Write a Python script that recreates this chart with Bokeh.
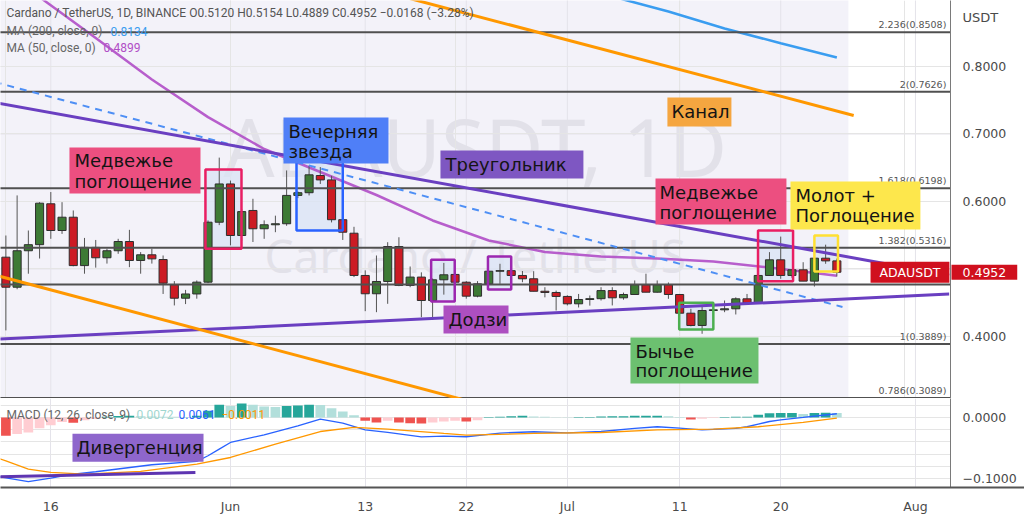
import pandas as pd
from bokeh.plotting import figure
from bokeh.layouts import column
from bokeh.models import Range1d, FixedTicker, Label
from bokeh.core.properties import value
from bokeh.embed import file_html
from bokeh.resources import INLINE

# ---------------- data ----------------
dates = [d.strftime("%Y-%m-%d") for d in pd.date_range("2022-05-12", "2022-07-25")]
opens = [0.5175, 0.4730, 0.5270, 0.5360, 0.5966, 0.5570, 0.5767, 0.5050, 0.5320, 0.5166,
         0.5270, 0.5407, 0.5126, 0.5210, 0.5140, 0.4766, 0.4567, 0.4630, 0.4805, 0.5693,
         0.6260, 0.5496, 0.5867, 0.5596, 0.5655, 0.5670, 0.6090, 0.6130, 0.6385, 0.6320,
         0.5730, 0.5530, 0.4904, 0.4633, 0.4815, 0.5333, 0.4756, 0.4880, 0.4533, 0.4840,
         0.4919, 0.4804, 0.4597, 0.4780, 0.4967, 0.4975, 0.4904, 0.4855, 0.4670, 0.4652,
         0.4593, 0.4484, 0.4548, 0.4560, 0.4680, 0.4573, 0.4622, 0.4766, 0.4656, 0.4766,
         0.4622, 0.4345, 0.4163, 0.4385, 0.4395, 0.4410, 0.4558, 0.4494, 0.4904, 0.5136,
         0.4904, 0.4988, 0.4820, 0.5160, 0.5120]
highs = [0.5496, 0.6090, 0.5570, 0.5990, 0.6140, 0.5990, 0.5867, 0.5460, 0.5430, 0.5300,
         0.5447, 0.5580, 0.5250, 0.5300, 0.5200, 0.4820, 0.4690, 0.4830, 0.5720, 0.6650,
         0.6310, 0.5890, 0.6040, 0.5720, 0.5790, 0.6460, 0.6150, 0.6530, 0.6510, 0.6380,
         0.5740, 0.5625, 0.4980, 0.5200, 0.5397, 0.5470, 0.5037, 0.4950, 0.4860, 0.5090,
         0.4950, 0.4820, 0.4820, 0.4970, 0.5077, 0.5050, 0.4970, 0.4967, 0.4730, 0.4680,
         0.4610, 0.4630, 0.4607, 0.4730, 0.4730, 0.4650, 0.4830, 0.4930, 0.4830, 0.4800,
         0.4630, 0.4410, 0.4459, 0.4430, 0.4533, 0.4580, 0.4630, 0.4930, 0.5250, 0.5480,
         0.4995, 0.5100, 0.5160, 0.5360, 0.5154]
lows = [0.4090, 0.4700, 0.4930, 0.5155, 0.5447, 0.5520, 0.5040, 0.4930, 0.5020, 0.5080,
        0.5225, 0.5027, 0.4930, 0.5080, 0.4630, 0.4460, 0.4480, 0.4560, 0.4790, 0.5650,
        0.5350, 0.5420, 0.5400, 0.5447, 0.5545, 0.5640, 0.6050, 0.6090, 0.6260, 0.5690,
        0.5430, 0.4880, 0.4375, 0.4360, 0.4484, 0.4745, 0.4730, 0.4286, 0.4245, 0.4620,
        0.4780, 0.4560, 0.4580, 0.4780, 0.4780, 0.4825, 0.4804, 0.4670, 0.4580, 0.4385,
        0.4460, 0.4430, 0.4457, 0.4533, 0.4460, 0.4545, 0.4622, 0.4656, 0.4650, 0.4558,
        0.4340, 0.4150, 0.4040, 0.4355, 0.4360, 0.4326, 0.4480, 0.4484, 0.4904, 0.4855,
        0.4870, 0.4820, 0.4740, 0.5077, 0.4889]
closes = [0.4730, 0.5270, 0.5360, 0.5975, 0.5570, 0.5767, 0.5050, 0.5320, 0.5166, 0.5270,
          0.5407, 0.5126, 0.5210, 0.5150, 0.4790, 0.4567, 0.4630, 0.4805, 0.5693, 0.6260,
          0.5496, 0.5850, 0.5596, 0.5655, 0.5670, 0.6090, 0.6130, 0.6395, 0.6320, 0.5730,
          0.5545, 0.4904, 0.4633, 0.4815, 0.5333, 0.4756, 0.4880, 0.4533, 0.4840, 0.4914,
          0.4804, 0.4597, 0.4780, 0.4967, 0.4975, 0.4904, 0.4855, 0.4670, 0.4652, 0.4593,
          0.4484, 0.4548, 0.4560, 0.4680, 0.4573, 0.4622, 0.4766, 0.4656, 0.4766, 0.4622,
          0.4345, 0.4163, 0.4385, 0.4395, 0.4410, 0.4558, 0.4494, 0.4904, 0.5136, 0.4904,
          0.4988, 0.4820, 0.5160, 0.5120, 0.4952]

hist = [-0.0300, -0.0273, -0.0246, -0.0175, -0.0126, -0.0075, -0.0085, -0.0044, -0.0027, 0.0012,
        0.0025, 0.0030, 0.0022, 0.0015, 0.0012, 0.0010, 0.0008, 0.0030, 0.0110, 0.0208,
        0.0190, 0.0230, 0.0208, 0.0178, 0.0170, 0.0190, 0.0195, 0.0208, 0.0205, 0.0150,
        0.0098, 0.0038, -0.0055, -0.0082, -0.0055, -0.0082, -0.0093, -0.0098, -0.0082, -0.0066,
        -0.0055, -0.0066, -0.0044, 0.0008, 0.0013, 0.0020, 0.0030, 0.0017, 0.0010, 0.0004,
        0.0002, 0.0006, 0.0008, 0.0016, 0.0018, 0.0020, 0.0027, 0.0029, 0.0030, 0.0018,
        0.0006, -0.0033, -0.0020, -0.0010, 0.0006, 0.0012, 0.0013, 0.0044, 0.0071, 0.0073,
        0.0074, 0.0055, 0.0072, 0.0078, 0.0072]

macd_dates = ["2022-05-11", "2022-05-12", "2022-05-14", "2022-05-16", "2022-05-18", "2022-05-20",
              "2022-05-25", "2022-05-29", "2022-05-30", "2022-05-31", "2022-06-01", "2022-06-04",
              "2022-06-07", "2022-06-09", "2022-06-11", "2022-06-13", "2022-06-15", "2022-06-18",
              "2022-06-20", "2022-06-22", "2022-06-25", "2022-06-28", "2022-07-01", "2022-07-04",
              "2022-07-07", "2022-07-09", "2022-07-11", "2022-07-13", "2022-07-16", "2022-07-17",
              "2022-07-18", "2022-07-19", "2022-07-20", "2022-07-22", "2022-07-25"]
macd_vals = [-0.0960, -0.0990, -0.1050, -0.0994, -0.0928, -0.0890,
             -0.0775, -0.0720, -0.0628, -0.0518, -0.0410, -0.0284,
             -0.0136, -0.0027, -0.0093, -0.0202, -0.0246, -0.0317,
             -0.0306, -0.0316, -0.0256, -0.0234, -0.0251, -0.0230,
             -0.0180, -0.0152, -0.0174, -0.0202, -0.0180, -0.0152,
             -0.0109, -0.0066, -0.0038, 0.0000, 0.0061]
sig_dates = ["2022-05-11", "2022-05-12", "2022-05-14", "2022-05-16", "2022-05-19", "2022-05-24",
             "2022-05-29", "2022-06-01", "2022-06-05", "2022-06-09", "2022-06-12", "2022-06-15",
             "2022-06-20", "2022-06-22", "2022-06-28", "2022-07-04", "2022-07-09", "2022-07-14",
             "2022-07-18", "2022-07-22", "2022-07-25"]
sig_vals = [-0.0650, -0.0710, -0.0846, -0.0900, -0.0928, -0.0885,
            -0.0764, -0.0656, -0.0437, -0.0230, -0.0164, -0.0190,
            -0.0262, -0.0289, -0.0262, -0.0246, -0.0202, -0.0190,
            -0.0152, -0.0082, -0.0011]

ma50_dates = ["2022-05-11", "2022-05-15", "2022-05-20", "2022-05-25", "2022-05-30", "2022-06-04",
              "2022-06-09", "2022-06-14", "2022-06-19", "2022-06-24", "2022-06-29", "2022-07-04",
              "2022-07-09", "2022-07-14", "2022-07-19", "2022-07-25"]
ma50_vals = [0.9505, 0.9028, 0.8422, 0.7807, 0.7250, 0.6778,
             0.6437, 0.6096, 0.5719, 0.5422, 0.5252, 0.5185,
             0.5156, 0.5111, 0.5022, 0.4899]
ma200_dates = ["2022-07-01", "2022-07-06", "2022-07-10", "2022-07-15", "2022-07-20", "2022-07-25"]
ma200_vals = [0.9230, 0.8993, 0.8815, 0.8563, 0.8345, 0.8134]

tri_up_dates, tri_up_vals = ["2022-05-11", "2022-08-04"], [0.7467, 0.4908]
tri_lo_dates, tri_lo_vals = ["2022-05-11", "2022-08-04"], [0.3959, 0.4628]
dash_dates, dash_vals = ["2022-05-11", "2022-07-25 12:00"], [0.7770, 0.4437]
chan_up_dates, chan_up_vals = ["2022-06-15", "2022-07-26 12:00"], [0.9093, 0.7275]
chan_lo_dates, chan_lo_vals = ["2022-05-11", "2022-06-23"], [0.4911, 0.3007]
div_dates, div_vals = ["2022-05-11", "2022-05-28 21:00"], [-0.0974, -0.0902]

fib_ratios = ["0.786", "1", "1.236", "1.382", "1.618", "2", "2.236"]
fib_prices = [0.3089, 0.3889, 0.4771, 0.5316, 0.6198, 0.7626, 0.8508]

x_tick_dates = ["2022-05-16", "2022-06-01", "2022-06-13", "2022-06-22", "2022-07-01",
                "2022-07-11", "2022-07-20", "2022-08-01"]
x_tick_labels = ["16", "Jun", "13", "22", "Jul", "11", "20", "Aug"]
y_ticks = [0.4, 0.6, 0.7, 0.8]
y_tick_labels = ["0.4000", "0.6000", "0.7000", "0.8000"]
y_grid = [0.4, 0.5, 0.6, 0.7, 0.8]
m_ticks = [0.0, -0.1]
m_tick_labels = ["0.0000", "\u22120.1000"]
last_price = 0.4952

# ---------------- helpers ----------------
BASE = pd.Timestamp("2022-06-01")


def dx(s):
    return (pd.Timestamp(s) - BASE).total_seconds() / 86400.0


def dxs(lst):
    return [dx(s) for s in lst]


xs = dxs(dates)
xt = dxs(x_tick_dates)
FONT = value("DejaVu Sans")
LFONT = "Roboto"

W, AXW = 1024, 74
X0, X1 = -20.48, 64.12                       # visible date span of the panes
PER_PX = (X1 - X0) / (W - AXW)
X1_FULL = X1 + AXW * PER_PX                 # frames also cover the price-scale strip
LBL_X = X1 + 12 * PER_PX
GRID = "#e4e3ea"
AXC = "#4a4a4a"


def tag(fig, l, r, t, b, bg, lines, tx, tys, size="18px"):
    fig.quad(left=[l], right=[r], top=[t], bottom=[b], fill_color=bg, line_color=None)
    fig.text(x=[tx] * len(lines), y=tys, text=lines, text_font=FONT, text_font_size=size,
             text_color="#141414", text_baseline="middle", text_align="left")


def price_strip(fig, ticks, labels):
    fig.quad(left=[X1], right=[X1_FULL + 5], top=[5], bottom=[-5], fill_color="white",
             line_color=None)
    fig.segment(x0=[X1], x1=[X1], y0=[-5], y1=[5], line_color="#7a7a7a", line_width=1)
    fig.text(x=[LBL_X] * len(ticks), y=ticks, text=labels, text_font=FONT,
             text_font_size="12.5px", text_color=AXC, text_baseline="middle", text_align="left")


# ---------------- main price pane ----------------
p = figure(width=W, height=398, x_range=Range1d(X0, X1_FULL), y_range=Range1d(0.3081, 0.8978),
           output_backend="svg", toolbar_location=None, x_axis_location=None,
           y_axis_location=None, min_border_left=0, min_border_right=0,
           min_border_top=0, min_border_bottom=0, outline_line_color=None,
           background_fill_color="white", border_fill_color="white")

# shaded drawing region + grid + watermark
p.quad(left=[-30], right=[55.03], top=[1.0], bottom=[0.3089], fill_color="#f3f2f9",
       line_color=None, level="image")
p.segment(x0=[-30] * len(y_grid), x1=[X1] * len(y_grid), y0=y_grid, y1=y_grid,
          line_color=GRID, line_width=1, level="image")
p.segment(x0=xt, x1=xt, y0=[0] * len(xt), y1=[1] * len(xt), line_color=GRID, line_width=1,
          level="image")
p.text(x=[21.8, 21.8], y=[0.683, 0.520], text=["ADAUSDT, 1D", "Cardano / TetherUS"],
       text_font=value("Noto Sans"), text_font_size=["80px", "46px"], text_color="#e2e1e9",
       text_align="center", text_baseline="middle", level="image")

# pattern boxes (fill under candles)
boxes = [(-2.23, 0.98, 0.6474, 0.530, "#e91e63"),
         (5.88, 10.0, 0.6607, 0.557, "#2962ff"),
         (17.87, 19.97, 0.5136, 0.4519, "#9c27b0"),
         (22.93, 25.0, 0.5185, 0.4696, "#9c27b0"),
         (39.96, 43.0, 0.4500, 0.4104, "#4caf50"),
         (46.98, 50.1, 0.5570, 0.4820, "#e91e63"),
         (52.0, 54.1, 0.5496, 0.4963, "#ffe033")]
for l, r, t, b, c in boxes:
    p.quad(left=[l], right=[r], top=[t], bottom=[b], fill_color="#dae3f4", fill_alpha=0.75,
           line_color=None)

# moving averages
p.line(dxs(ma200_dates), ma200_vals, line_color="#3a9df0", line_width=2.5)
p.line(dxs(ma50_dates), ma50_vals, line_color="#b04ec6", line_width=2.5, line_alpha=0.9)

# candles
inc = [c >= o for o, c in zip(opens, closes)]
p.segment(x0=xs, y0=highs, x1=xs, y1=lows, line_color="#555555", line_width=1)
p.quad(left=[x - 0.36 for x in xs], right=[x + 0.36 for x in xs],
       top=[max(o, c) for o, c in zip(opens, closes)],
       bottom=[min(o, c) for o, c in zip(opens, closes)],
       fill_color=["#3d7a35" if i else "#cc1b24" for i in inc],
       line_color="#2e2e2e", line_width=1)

# fib lines
p.segment(x0=[-30] * len(fib_prices), x1=[X1] * len(fib_prices), y0=fib_prices, y1=fib_prices,
          line_color="#505050", line_width=2)
p.text(x=[63.75] * len(fib_prices), y=[v + 0.003 for v in fib_prices],
       text=[f"{r}({v:.4f})" for r, v in zip(fib_ratios, fib_prices)],
       text_font=FONT, text_font_size="9.5px", text_color="#555555",
       text_align="right", text_baseline="bottom")

# trend lines
p.line(dxs(dash_dates), dash_vals, line_color="#4e8ff5", line_width=2, line_dash="7 6")
p.line(dxs(tri_up_dates), tri_up_vals, line_color="#6a3fc1", line_width=3)
p.line(dxs(tri_lo_dates), tri_lo_vals, line_color="#6a3fc1", line_width=3)
p.line(dxs(chan_up_dates), chan_up_vals, line_color="#ff9800", line_width=3)
p.line(dxs(chan_lo_dates), chan_lo_vals, line_color="#ff9800", line_width=3)

# pattern box borders
for l, r, t, b, c in boxes:
    p.quad(left=[l], right=[r], top=[t], bottom=[b], fill_color=None,
           line_color=c, line_width=2.5)

tag(p, -14.34, -2.67, 0.680, 0.6119, "#ec4f80", ["Медвежье", "поглощение"], -13.9, [0.6600, 0.6296])
tag(p, 4.72, 14.07, 0.7244, 0.6563, "#4f7ff7", ["Вечерняя", "звезда"], 5.16, [0.7037, 0.6740])
tag(p, 18.7, 31.43, 0.6756, 0.6340, "#7e57c2", ["Треугольник"], 19.15, [0.6548])
tag(p, 18.97, 24.76, 0.4459, 0.4044, "#ad4fc0", ["Додзи"], 19.41, [0.4252])
tag(p, 38.91, 44.61, 0.7541, 0.7110, "#f5a640", ["Канал"], 39.27, [0.7333])
tag(p, 37.85, 49.51, 0.6341, 0.5659, "#ec4f80", ["Медвежье", "поглощение"], 38.2, [0.6133, 0.5837])
tag(p, 49.87, 61.44, 0.6296, 0.5585, "#fde74c", ["Молот +", "Поглощение"], 50.31, [0.6089, 0.5793])
tag(p, 35.62, 47.02, 0.3985, 0.3304, "#6cc070", ["Бычье", "поглощение"], 36.06, [0.3778, 0.3496])

# price scale strip
price_strip(p, y_ticks, y_tick_labels)
p.text(x=[LBL_X], y=[0.8726], text=["USDT"], text_font=FONT,
       text_font_size="13px", text_color=AXC, text_baseline="middle", text_align="left")

# price labels
p.add_layout(Label(x=57.0, y=last_price, text="ADAUSDT", text_font="DejaVu Sans",
                   text_font_size="12.5px", text_color="white", text_baseline="middle",
                   background_fill_color="#d0101e", padding=dict(left=9, right=9, top=3, bottom=3)))
p.add_layout(Label(x=X1 + 1 * PER_PX, y=last_price, text=f"{last_price:.4f}",
                   text_font="DejaVu Sans", text_font_size="12.5px", text_color="white",
                   text_baseline="middle", background_fill_color="#d0101e",
                   padding=dict(left=11, right=11, top=3, bottom=3)))

# legend
legend_items = [
    (6, 0.8800, "Cardano / TetherUS, 1D, BINANCE  O0.5120  H0.5154  L0.4889  C0.4952  \u22120.0168 (\u22123.28%)", "#555555"),
    (6, 0.8519, "MA (200, close, 0)", "#666666"),
    (110, 0.8519, "0.8134", "#3a9df0"),
    (6, 0.8281, "MA (50, close, 0)", "#666666"),
    (103, 0.8281, "0.4899", "#b04ec6"),
]
for lx, ly, txt, col in legend_items:
    p.add_layout(Label(x=X0 + lx * PER_PX, y=ly, text=txt, text_font=LFONT,
                       text_font_size="12px", text_color=col, text_baseline="middle"))

# ---------------- MACD pane ----------------
p2 = figure(width=W, height=120, x_range=Range1d(X0, X1_FULL), y_range=Range1d(-0.1148, 0.0311),
            output_backend="svg", toolbar_location=None, y_axis_location=None,
            min_border_left=0, min_border_right=0, min_border_top=0, min_border_bottom=31,
            outline_line_color=None, background_fill_color="white", border_fill_color="white")
ax = p2.xaxis[0]
ax.ticker = FixedTicker(ticks=xt)
ax.major_label_overrides = dict(zip(xt, x_tick_labels))
ax.major_label_standoff = 11
ax.major_tick_out = 0
ax.major_tick_in = 0
ax.major_tick_line_color = None
ax.minor_tick_line_color = None
ax.major_label_text_font = "DejaVu Sans"
ax.major_label_text_font_size = "12.5px"
ax.major_label_text_color = AXC
ax.axis_line_color = "#555555"
ax.axis_line_width = 2
p2.xgrid.ticker = FixedTicker(ticks=xt)
p2.xgrid.grid_line_color = GRID
p2.segment(x0=[-30] * len(m_ticks), x1=[X1] * len(m_ticks), y0=m_ticks, y1=m_ticks,
           line_color=GRID, line_width=1, level="image")

hcol = []
for i, v in enumerate(hist):
    prev = hist[i - 1] if i > 0 else 0.0
    if v >= 0:
        hcol.append("#26a69a" if v >= prev else "#b2dfdb")
    else:
        hcol.append("#ef5350" if v < prev else "#ffcdd2")
p2.vbar(x=xs, top=hist, bottom=0, width=0.86, fill_color=hcol, line_color=None)
p2.line(dxs(macd_dates), macd_vals, line_color="#2962ff", line_width=1.3)
p2.line(dxs(sig_dates), sig_vals, line_color="#ff9800", line_width=1.3)
p2.line(dxs(div_dates), div_vals, line_color="#5e35b1", line_width=3)
tag(p2, -14.07, -2.4, -0.0267, -0.0726, "#8e66cc", ["Дивергенция"], -13.71, [-0.0497])
price_strip(p2, m_ticks, m_tick_labels)

macd_legend = [(6, "MACD (12, 26, close, 9)", "#666666"), (136, "0.0072", "#9fd6cf"),
               (178, "0.0061", "#2962ff"), (221, "\u22120.0011", "#ff9800")]
for lx, txt, col in macd_legend:
    p2.add_layout(Label(x=X0 + lx * PER_PX, y=0.0044, text=txt, text_font=LFONT,
                        text_font_size="12px", text_color=col, text_baseline="middle"))

layout = column(p, p2, spacing=0)
open("out.html", "w").write(file_html(layout, INLINE))
